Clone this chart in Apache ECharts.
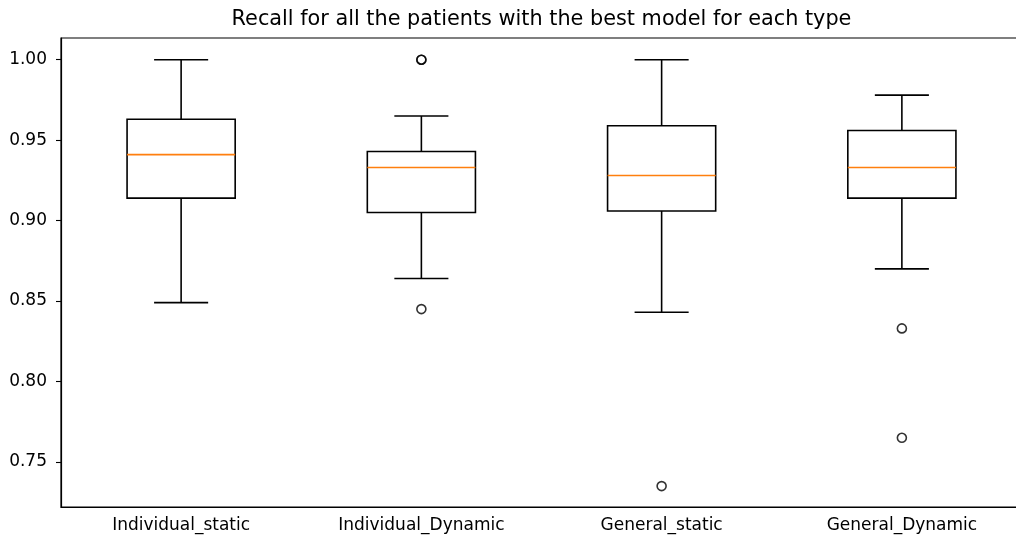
<!DOCTYPE html>
<html>
<head>
<meta charset="utf-8">
<script src="https://cdn.jsdelivr.net/npm/echarts@6/dist/echarts.min.js"></script>
<style>
html,body{margin:0;padding:0;background:#fff;}
#chart{width:1016px;height:542px;}
</style>
</head>
<body>
<div id="chart"></div>
<script>
const categories = ['Individual_static', 'Individual_Dynamic', 'General_static', 'General_Dynamic'];
const whiskerLow  = [0.849, 0.864, 0.843, 0.870];
const q1          = [0.914, 0.905, 0.906, 0.914];
const medians     = [0.941, 0.933, 0.928, 0.933];
const q3          = [0.963, 0.943, 0.959, 0.956];
const whiskerHigh = [1.000, 0.965, 1.000, 0.978];
// outliers: [category index, value]
const outliers = [[1, 1.000], [1, 1.000], [1, 0.845], [2, 0.735], [3, 0.833], [3, 0.765]];
const yTickLabels = [0.75, 0.80, 0.85, 0.90, 0.95, 1.00];

const boxData = categories.map((c, i) => [i, whiskerLow[i], q1[i], medians[i], q3[i], whiskerHigh[i]]);
const FONT = 'DejaVu Sans';
const LW = 1.6;

const chart = echarts.init(document.getElementById('chart'), null, {renderer: 'canvas'});
chart.setOption({
  animation: false,
  backgroundColor: '#fff',
  title: {
    text: 'Recall for all the patients with the best model for each type',
    left: 541.5, top: 9, textAlign: 'center', padding: 0,
    textStyle: {fontFamily: FONT, fontSize: 20.8, fontWeight: 'normal', color: '#000'}
  },
  grid: {
    left: 61, right: -6, top: 38, bottom: 35,
    outerBoundsMode: 'none', containLabel: false,
    show: true, borderColor: '#000', borderWidth: 1.2, backgroundColor: 'transparent'
  },
  xAxis: {
    type: 'category',
    data: categories,
    boundaryGap: true,
    axisLine: {lineStyle: {color: '#000', width: 1.2}},
    axisTick: {alignWithLabel: true, length: 5, lineStyle: {color: '#000', width: 1.1}},
    axisLabel: {fontFamily: FONT, fontSize: 17, color: '#000', margin: 10, interval: 0},
    splitLine: {show: false}
  },
  yAxis: {
    type: 'value',
    min: 0.722, max: 1.0135,
    axisLine: {show: true, lineStyle: {color: '#000', width: 1.2}},
    axisTick: {show: true, length: 5, customValues: yTickLabels, lineStyle: {color: '#000', width: 1.1}},
    axisLabel: {fontFamily: FONT, fontSize: 17, color: '#000', margin: 14, customValues: yTickLabels,
      formatter: v => v.toFixed(2)},
    splitLine: {show: false}
  },
  series: [
    {
      type: 'custom',
      data: boxData,
      encode: {x: 0, y: [1, 2, 3, 4, 5]},
      renderItem: function (params, api) {
        const idx = api.value(0);
        const bw = api.size([1, 0])[0] * 0.45;
        const half = bw / 2, capHalf = bw / 4;
        const pLow = api.coord([idx, api.value(1)]);
        const pQ1 = api.coord([idx, api.value(2)]);
        const pMed = api.coord([idx, api.value(3)]);
        const pQ3 = api.coord([idx, api.value(4)]);
        const pHigh = api.coord([idx, api.value(5)]);
        const cx = pQ1[0];
        const black = {stroke: '#000', lineWidth: LW, fill: null};
        return {
          type: 'group',
          children: [
            {type: 'line', shape: {x1: cx, y1: pQ1[1], x2: cx, y2: pLow[1]}, style: black},
            {type: 'line', shape: {x1: cx, y1: pQ3[1], x2: cx, y2: pHigh[1]}, style: black},
            {type: 'line', shape: {x1: cx - capHalf, y1: pLow[1], x2: cx + capHalf, y2: pLow[1]}, style: black},
            {type: 'line', shape: {x1: cx - capHalf, y1: pHigh[1], x2: cx + capHalf, y2: pHigh[1]}, style: black},
            {type: 'rect', shape: {x: cx - half, y: pQ3[1], width: bw, height: pQ1[1] - pQ3[1]}, style: black},
            {type: 'line', shape: {x1: cx - half, y1: pMed[1], x2: cx + half, y2: pMed[1]},
              style: {stroke: '#ff7f0e', lineWidth: LW}}
          ]
        };
      }
    },
    {
      type: 'scatter',
      data: outliers,
      symbol: 'circle',
      symbolSize: 9,
      itemStyle: {color: 'transparent', borderColor: '#000', borderWidth: 1.6},
      z: 5
    }
  ]
});
</script>
</body>
</html>
